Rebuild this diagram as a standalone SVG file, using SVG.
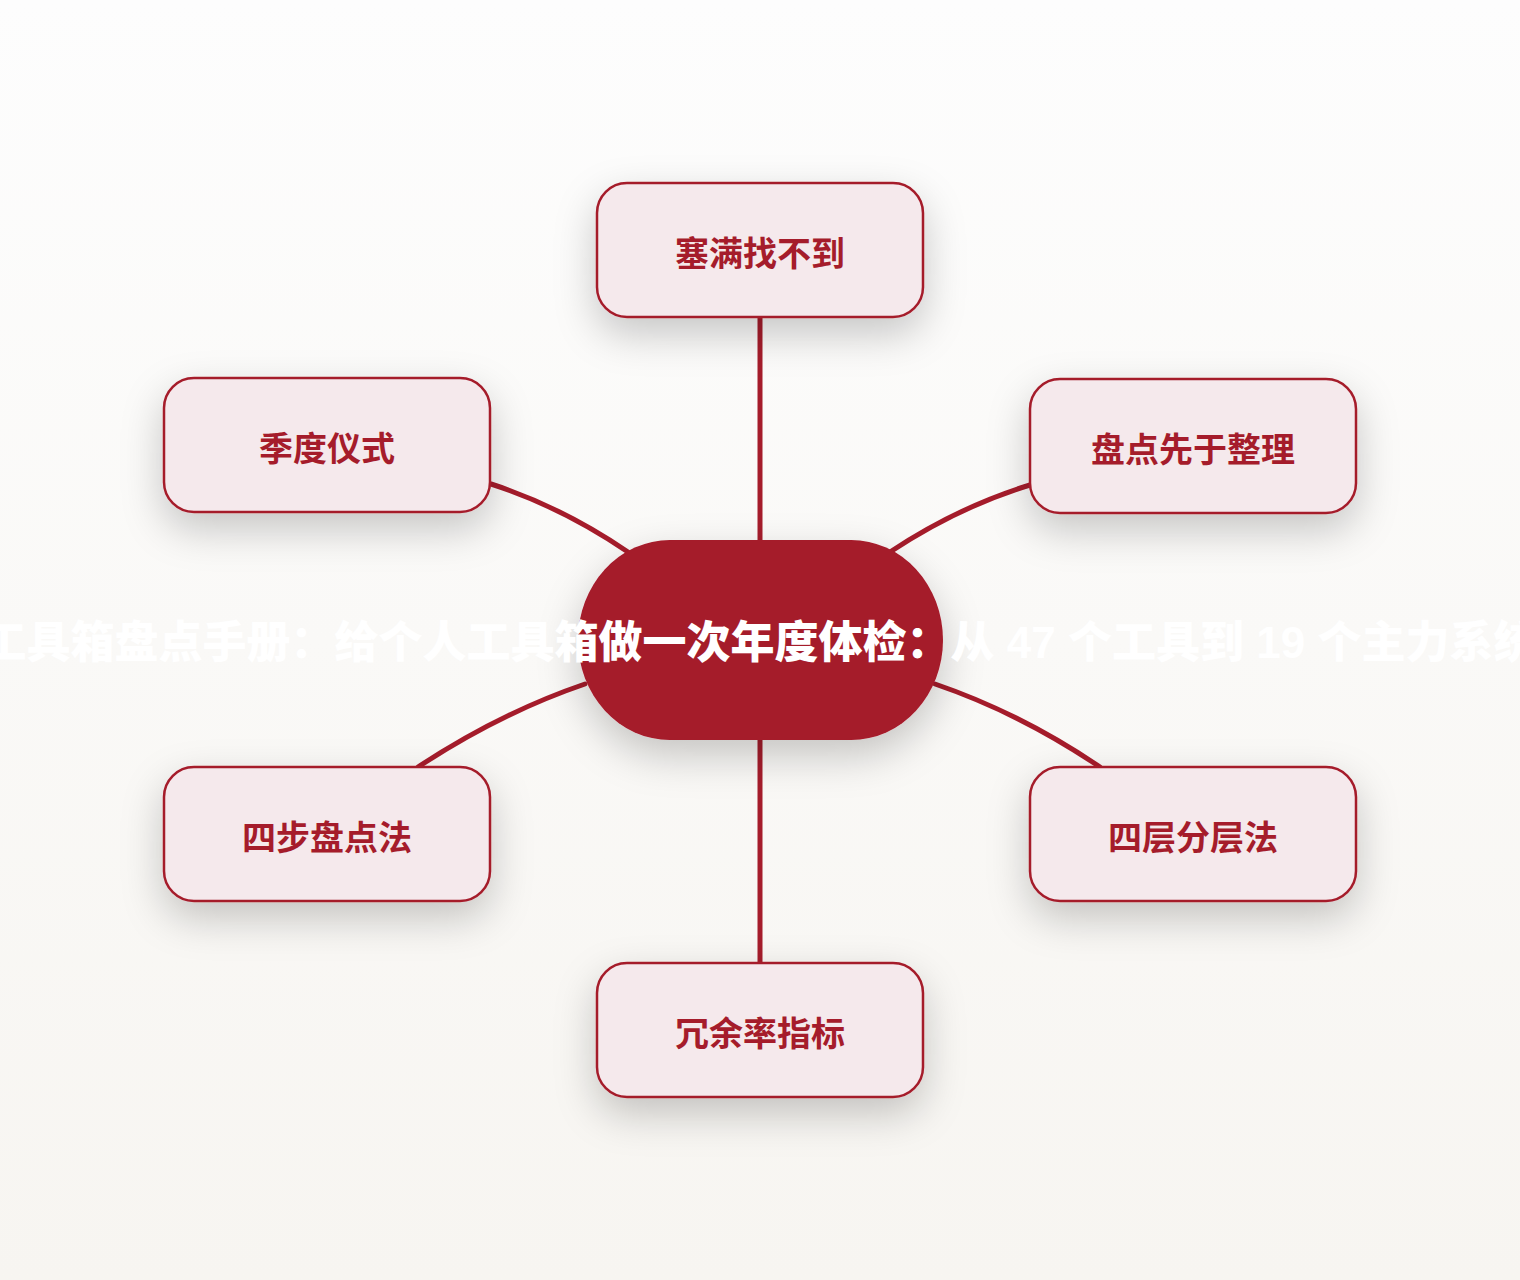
<svg xmlns="http://www.w3.org/2000/svg" width="1520" height="1280" viewBox="0 0 1520 1280">
  <defs>
    <linearGradient id="bg" x1="0" y1="0" x2="0" y2="1">
      <stop offset="0" stop-color="#fdfdfd"/>
      <stop offset="1" stop-color="#f7f5f1"/>
    </linearGradient>
    <filter id="shadow" x="-40%" y="-40%" width="180%" height="200%">
      <feDropShadow dx="0" dy="16" stdDeviation="20" flood-color="#000" flood-opacity="0.21"/>
    </filter>
    <style>
      .node rect { fill: #f5e9ec; stroke: #a51c2b; stroke-width: 2.5; }
      .node text { font-family: "Liberation Sans", "Noto Sans CJK SC", sans-serif; font-weight: 700; font-size: 34px; fill: #a51c2b; text-anchor: middle; }
      .conn path { fill: none; stroke: #a51c2b; stroke-width: 5; stroke-linecap: round; }
      .hub text { font-family: "Liberation Sans", "Noto Sans CJK SC", sans-serif; font-weight: 800; font-size: 44px; fill: #ffffff; text-anchor: middle; }
    </style>
  </defs>
  <rect x="0" y="0" width="1520" height="1280" fill="url(#bg)"/>

  <g id="connectors" class="conn">
    <path d="M760,545 L760,318"/>
    <path d="M628,552 Q562,507 491,484"/>
    <path d="M890,552 Q958,507 1030,485"/>
    <path d="M585,684 Q500,713 418,767"/>
    <path d="M935,684 Q1020,713 1100,767"/>
    <path d="M760,735 L760,963"/>
  </g>

  <g id="hub" class="hub">
    <rect x="578" y="540" width="365" height="200" rx="92" ry="100" fill="#a51a2a" filter="url(#shadow)"/>
    <text x="760" y="658">工具箱盘点手册：给个人工具箱做一次年度体检：从 47 个工具到 19 个主力系统</text>
  </g>

  <g id="node-top" class="node">
    <rect x="597" y="183" width="326" height="134" rx="30" filter="url(#shadow)"/>
    <text x="760" y="266">塞满找不到</text>
  </g>
  <g id="node-top-left" class="node">
    <rect x="164" y="378" width="326" height="134" rx="30" filter="url(#shadow)"/>
    <text x="327" y="461">季度仪式</text>
  </g>
  <g id="node-top-right" class="node">
    <rect x="1030" y="379" width="326" height="134" rx="30" filter="url(#shadow)"/>
    <text x="1193" y="462">盘点先于整理</text>
  </g>
  <g id="node-bottom-left" class="node">
    <rect x="164" y="767" width="326" height="134" rx="30" filter="url(#shadow)"/>
    <text x="327" y="850">四步盘点法</text>
  </g>
  <g id="node-bottom-right" class="node">
    <rect x="1030" y="767" width="326" height="134" rx="30" filter="url(#shadow)"/>
    <text x="1193" y="850">四层分层法</text>
  </g>
  <g id="node-bottom" class="node">
    <rect x="597" y="963" width="326" height="134" rx="30" filter="url(#shadow)"/>
    <text x="760" y="1046">冗余率指标</text>
  </g>
</svg>
